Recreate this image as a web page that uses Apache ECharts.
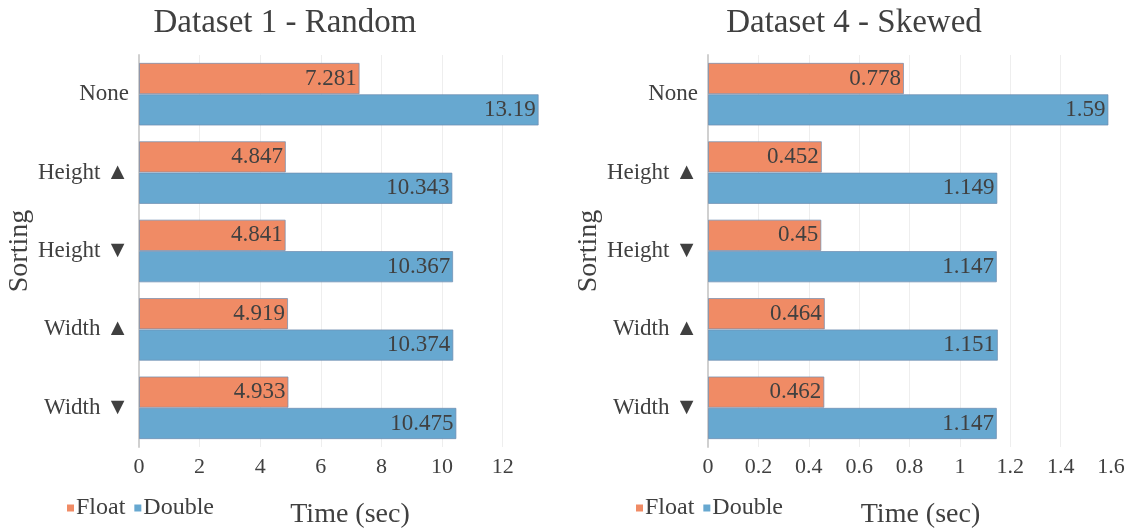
<!DOCTYPE html>
<html>
<head>
<meta charset="utf-8">
<script src="https://cdn.jsdelivr.net/npm/echarts@6/dist/echarts.min.js"></script>
<style>
  html, body { margin: 0; padding: 0; background: #ffffff; }
  #chart { width: 1132px; height: 529px; }
</style>
</head>
<body>
<div id="chart"></div>
<script>
// Sorting strategies (top to bottom)
const categories = ['None', 'Height ▲', 'Height ▼', 'Width ▲', 'Width ▼'];

// Dataset 1 - Random, time in seconds
const randomFloat  = [7.281, 4.847, 4.841, 4.919, 4.933];
const randomDouble = [13.19, 10.343, 10.367, 10.374, 10.475];

// Dataset 4 - Skewed, time in seconds
const skewedFloat  = [0.778, 0.452, 0.45, 0.464, 0.462];
const skewedDouble = [1.59, 1.149, 1.147, 1.151, 1.147];

const seriesNames = ['Float', 'Double'];
const titles = ['Dataset 1 - Random', 'Dataset 4 - Skewed'];

const FONT = '"Liberation Serif", "Times New Roman", serif';
const TEXT = '#404040';
const ORANGE = '#F08B65';
const BLUE = '#67A8D0';

function xAxisFor(gridIndex, max, interval, decimals) {
  return {
    type: 'value',
    gridIndex: gridIndex,
    min: 0,
    max: max,
    interval: interval,
    name: 'Time (sec)',
    nameLocation: 'middle',
    nameGap: 54,
    nameTextStyle: { fontFamily: FONT, fontSize: 28, color: TEXT, padding: [0, 0, 0, 22] },
    axisLine: { show: false },
    axisTick: { show: false },
    axisLabel: {
      fontFamily: FONT, fontSize: 22, color: TEXT, margin: 9,
      showMaxLabel: max % interval === 0,
      formatter: v => decimals ? String(+v.toFixed(decimals)) : String(v)
    },
    splitLine: { show: true, showMaxLine: false, lineStyle: { color: '#eeeeee', width: 1 } }
  };
}

function yAxisFor(gridIndex) {
  return {
    type: 'category',
    gridIndex: gridIndex,
    data: categories,
    inverse: true,
    name: 'Sorting',
    nameLocation: 'middle',
    nameRotate: 90,
    nameGap: 95,
    nameTextStyle: { fontFamily: FONT, fontSize: 28, color: TEXT },
    axisLine: { show: true, lineStyle: { color: '#d0d0d0', width: 2 } },
    axisTick: { show: false },
    axisLabel: { fontFamily: FONT, fontSize: 23, color: TEXT, margin: 10, padding: [4, 0, 0, 0] }
  };
}

function barSeries(name, data, idx, color) {
  return {
    name: name,
    type: 'bar',
    xAxisIndex: idx,
    yAxisIndex: idx,
    data: data,
    barGap: '0%',
    barCategoryGap: '20%',
    itemStyle: { color: color, borderColor: 'rgba(110,140,175,0.7)', borderWidth: 1 },
    label: {
      show: true,
      position: 'insideRight',
      distance: 3,
      fontFamily: FONT,
      fontSize: 23,
      color: TEXT,
      formatter: p => String(p.value)
    },
    emphasis: { disabled: true }
  };
}

function legendAt(left) {
  return {
    data: seriesNames, left: left, top: 491, icon: 'rect',
    itemWidth: 7, itemHeight: 7, itemGap: 9,
    itemStyle: { borderWidth: 0 },
    textStyle: { fontFamily: FONT, fontSize: 24, color: TEXT, padding: [0, 0, 0, -3] }
  };
}

const chart = echarts.init(document.getElementById('chart'), null, { renderer: 'canvas' });

chart.setOption({
  animation: false,
  backgroundColor: '#ffffff',
  textStyle: { fontFamily: FONT },
  title: [
    { text: titles[0], left: 280, top: 2, textAlign: 'center',
      textStyle: { fontFamily: FONT, fontSize: 33, fontWeight: 'normal', color: TEXT } },
    { text: titles[1], left: 849, top: 2, textAlign: 'center',
      textStyle: { fontFamily: FONT, fontSize: 33, fontWeight: 'normal', color: TEXT } }
  ],
  legend: [legendAt(62), legendAt(631)],
  grid: [
    { left: 139, top: 55, width: 400, height: 392, outerBoundsMode: 'none', containLabel: false },
    { left: 708, top: 55, width: 403, height: 392, outerBoundsMode: 'none', containLabel: false }
  ],
  xAxis: [
    xAxisFor(0, 13.2, 2, 0),
    xAxisFor(1, 1.6, 0.2, 1)
  ],
  yAxis: [yAxisFor(0), yAxisFor(1)],
  series: [
    barSeries(seriesNames[0], randomFloat, 0, ORANGE),
    barSeries(seriesNames[1], randomDouble, 0, BLUE),
    barSeries(seriesNames[0], skewedFloat, 1, ORANGE),
    barSeries(seriesNames[1], skewedDouble, 1, BLUE)
  ]
});
</script>
</body>
</html>
